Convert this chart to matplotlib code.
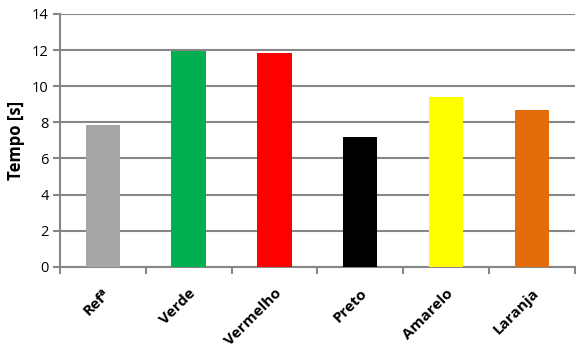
import matplotlib.pyplot as plt
import numpy as np

categories = ["Refª", "Verde", "Vermelho", "Preto", "Amarelo", "Laranja"]
tempos = [7.83, 11.95, 11.85, 7.2, 9.4, 8.7]
bar_colors = ["#a6a6a6", "#00b050", "#ff0000", "#000000", "#ffff00", "#e46c0a"]

plt.rcParams["font.family"] = ["Open Sans", "DejaVu Sans"]

fig = plt.figure(figsize=(5.76, 3.48), dpi=100)
ax = fig.add_axes([0.104, 0.233, 0.894, 0.727])

x = np.arange(len(categories))
ax.bar(x, tempos, width=0.4, color=bar_colors, zorder=3)

ax.set_xlim(-0.5, len(categories) - 0.5)
ax.set_ylim(0, 14)
ax.set_yticks(np.arange(0, 15, 2))
ax.grid(axis="y", color="#878787", linewidth=1.5, zorder=0)

ax.set_xticks(x)
ax.set_xticklabels(categories, rotation=45, ha="right", rotation_mode="anchor",
                   fontsize=11, fontweight="bold")
ax.set_xticks(np.arange(-0.5, len(categories)), minor=True)
ax.tick_params(axis="x", which="major", length=0, pad=14)
ax.tick_params(axis="x", which="minor", length=5, width=1.5, color="#878787")
ax.tick_params(axis="y", length=5, width=1.5, color="#878787", labelsize=10.5, pad=3)

ax.set_ylabel("Tempo [s]", fontsize=12, fontweight="bold", labelpad=5)

for side in ["top", "right"]:
    ax.spines[side].set_visible(False)
for side in ["left", "bottom"]:
    ax.spines[side].set_color("#878787")
    ax.spines[side].set_linewidth(1.5)

fig.savefig("out.png", dpi=100)
